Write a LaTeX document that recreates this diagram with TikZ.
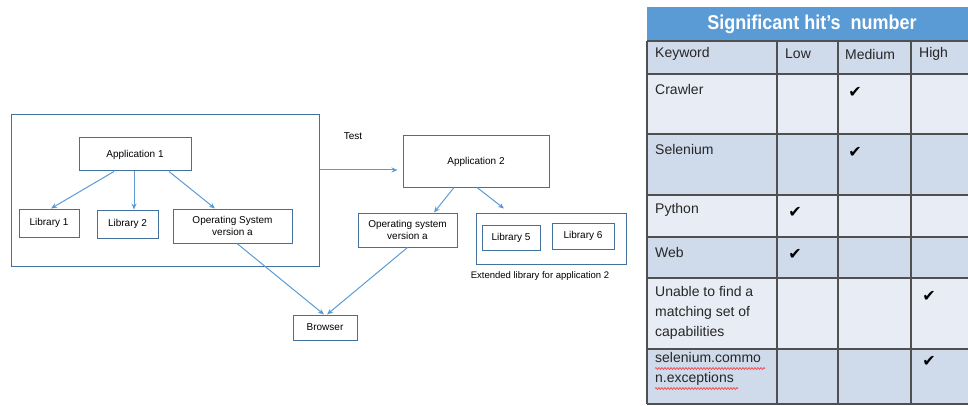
\documentclass[tikz,border=0pt]{standalone}
\usepackage{fontspec}
\setmainfont{Liberation Sans}
\newfontfamily\dejavu{DejaVu Sans}
\usetikzlibrary{arrows.meta,decorations.pathmorphing}
\definecolor{boxc}{HTML}{41719C}
\definecolor{arrc}{HTML}{5B9BD5}
\definecolor{hdrc}{HTML}{5B9BD5}
\definecolor{darkrow}{HTML}{CFDAEB}
\definecolor{lightrow}{HTML}{E8EDF5}
\definecolor{gridc}{HTML}{505050}
\tikzset{
  dbox/.style={draw=boxc, line width=1pt, fill=white, inner sep=1pt, align=center, font=\fontsize{10}{12}\selectfont},
  conn/.style={draw=arrc, line width=1pt, -{Stealth[length=6pt,width=5pt]}},
  lbl/.style={inner sep=0pt, font=\fontsize{10}{12}\selectfont},
  ttext/.style={inner sep=0pt, anchor=west, align=left, text=black!85, font=\fontsize{14}{20}\selectfont},
  tick/.style={inner sep=0pt, font=\dejavu\bfseries\fontsize{16}{16}\selectfont},
  gridline/.style={draw=gridc, line width=1.2pt},
  squig/.style={draw=red!80, line width=0.6pt, decorate, decoration={snake, amplitude=1pt, segment length=3pt}},
}
\begin{document}
\begin{tikzpicture}[x=1pt,y=-1pt]
\useasboundingbox (0,0) rectangle (968,406);
% ---------- diagram ----------
\node[dbox, minimum width=308pt, minimum height=151pt, fill=none] (outer1) at (165,190.5) {};
\node[dbox, minimum width=112pt, minimum height=33pt] (app1) at (135,154.5) {Application 1};
\node[dbox, minimum width=60pt, minimum height=28pt] (lib1) at (49,223) {Library 1};
\node[dbox, minimum width=61pt, minimum height=28pt] (lib2) at (127.5,224) {Library 2};
\node[dbox, minimum width=119pt, minimum height=34pt] (os1) at (232.5,226) {Operating System\\version a};
\node[dbox, minimum width=146pt, minimum height=51pt] (app2) at (476,161.5) {Application 2};
\node[dbox, minimum width=99pt, minimum height=34pt] (os2) at (407.5,230) {Operating system\\version a};
\node[dbox, minimum width=150pt, minimum height=51pt] (ext) at (551,238.5) {};
\node[dbox, minimum width=58pt, minimum height=25pt] (lib5) at (511,237.5) {Library 5};
\node[dbox, minimum width=62pt, minimum height=26pt] (lib6) at (583,236) {Library 6};
\node[dbox, minimum width=64pt, minimum height=25pt] (browser) at (325,327.5) {Browser};
\node[lbl] (test) at (353,136) {Test};
\node[lbl, font=\fontsize{9.5}{11}\selectfont] (extlbl) at (540,276) {Extended library for application 2};

\draw[conn] ([xshift=-21pt]app1.south) -- ([xshift=2pt]lib1.north);
\draw[conn] ([xshift=-1pt]app1.south) -- ([xshift=6.5pt]lib2.north);
\draw[conn] ([xshift=34pt]app1.south) -- ([xshift=-17.5pt]os1.north);
\draw[conn] ([yshift=20.5pt]outer1.east) -- ([xshift=-5pt,yshift=-8.5pt]app2.west);
\draw[conn] ([xshift=-22pt]app2.south) -- ([xshift=26.5pt]os2.north);
\draw[conn] ([xshift=1pt]app2.south) -- ([xshift=-47pt,yshift=4pt]ext.north);
\draw[conn] ([xshift=4.5pt]os1.south) -- ([xshift=-1pt]browser.north);
\draw[conn] (os2.south) -- ([xshift=2pt]browser.north);

% ---------- table ----------
\fill[hdrc] (647,7) rectangle (968,41);
\fill[darkrow] (647,41) rectangle (968,74);
\fill[lightrow] (647,74) rectangle (968,134);
\fill[darkrow] (647,134) rectangle (968,195);
\fill[lightrow] (647,195) rectangle (968,237);
\fill[darkrow] (647,237) rectangle (968,278);
\fill[lightrow] (647,278) rectangle (968,349);
\fill[darkrow] (647,349) rectangle (968,404);
\foreach \yy in {41,74,134,195,237,278,349,404} \draw[gridline] (647,\yy) -- (968,\yy);
\foreach \xx in {647,777,838,911} \draw[gridline] (\xx,41) -- (\xx,404);

\node[inner sep=0pt, text=white, font=\bfseries\fontsize{20}{22}\selectfont] (hdr) at (812,24) {\scalebox{0.9}[1]{Significant hit’s\ \ number}};
\node[ttext] (kw) at (655,54) {Keyword};
\node[ttext] (low) at (785,54) {Low};
\node[ttext] (med) at (845,54) {Medium};
\node[ttext] (high) at (919,54) {High};
\node[ttext] (crawler) at (655,89) {Crawler};
\node[ttext] (selenium) at (655,149) {Selenium};
\node[ttext] (python) at (655,210) {Python};
\node[ttext] (web) at (655,252) {Web};
\node[ttext] (unable) at (655,313) {Unable to find a\\matching set of\\capabilities};
\node[ttext] (selcom) at (655,369) {selenium.commo\\n.exceptions};
\draw[squig] (655,368.5) -- (765,368.5);
\draw[squig] (655,388.5) -- (738,388.5);

\node[tick] (t1) at (855,92) {✔};
\node[tick] (t2) at (855,152) {✔};
\node[tick] (t3) at (795,212) {✔};
\node[tick] (t4) at (795,254) {✔};
\node[tick] (t5) at (929,296) {✔};
\node[tick] (t6) at (929,361) {✔};
\end{tikzpicture}
\end{document}
